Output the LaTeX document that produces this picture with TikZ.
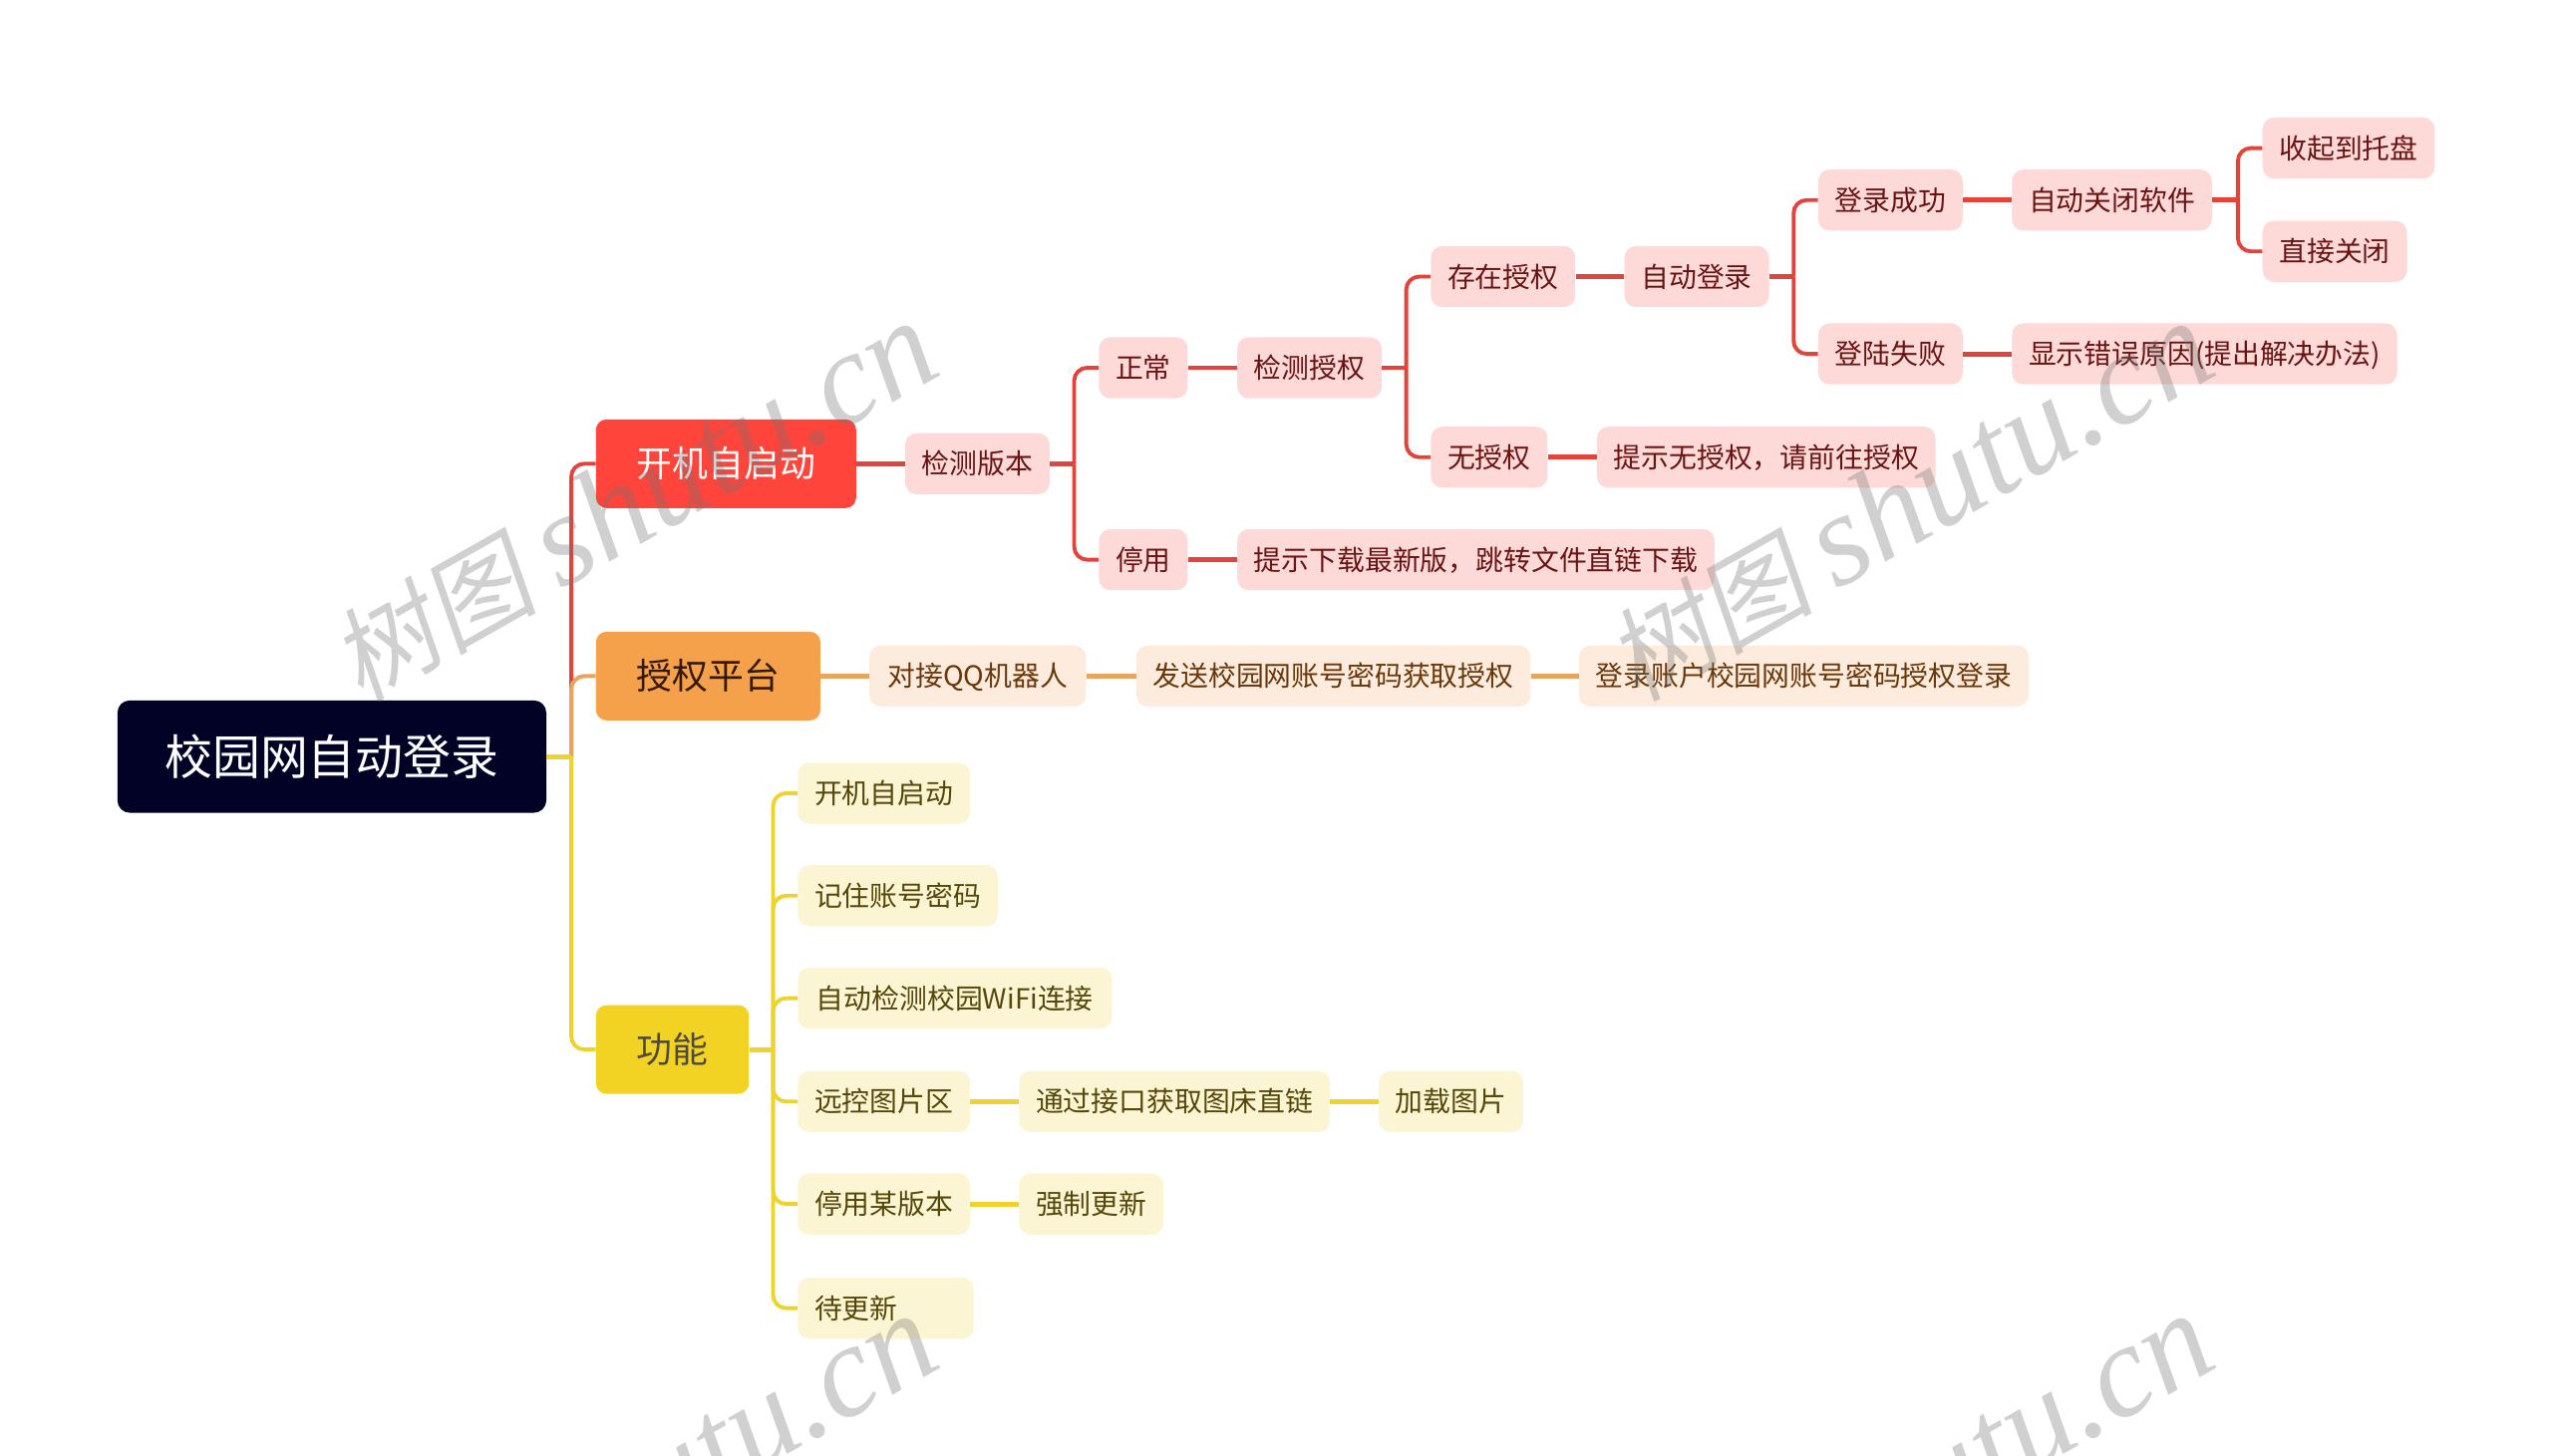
\documentclass[tikz,border=0pt]{standalone}
\usepackage{fontspec}
\setmainfont{Noto Sans CJK SC}
\newfontfamily\wmcjk[FakeSlant=0.18]{Noto Sans CJK SC}
\newfontfamily\wmlatin{Liberation Serif}
\definecolor{inkroot}{RGB}{2,2,38}
\definecolor{redbox}{RGB}{255,68,59}
\definecolor{orabox}{RGB}{245,161,76}
\definecolor{yelbox}{RGB}{242,211,35}
\definecolor{redleaf}{RGB}{253,218,216}
\definecolor{oraleaf}{RGB}{253,236,221}
\definecolor{yelleaf}{RGB}{252,245,211}
\definecolor{redtext}{RGB}{105,20,18}
\definecolor{oratext}{RGB}{105,55,10}
\definecolor{yeltext}{RGB}{85,70,10}
\definecolor{redline}{RGB}{226,68,60}
\definecolor{oraline}{RGB}{232,163,92}
\definecolor{yelline}{RGB}{238,211,44}
\tikzset{
  rootbox/.style={fill=inkroot,text=white,rounded corners=0.3cm,inner xsep=1.16cm,inner ysep=0pt,minimum height=2.76cm,font=\fontsize{33.4}{36}\selectfont,anchor=west},
  headbox/.style={fill=#1,rounded corners=0.26cm,inner xsep=1cm,inner ysep=0pt,minimum height=2.18cm,font=\fontsize{25}{28}\selectfont,anchor=west},
  leafbox/.style 2 args={fill=#1,text=#2,rounded corners=0.28cm,inner xsep=0.41cm,inner ysep=0pt,text height=0.6cm,text depth=0.08cm,minimum height=1.5cm,font=\fontsize{19.4}{22}\selectfont,anchor=west},
  redbit/.style={leafbox={redleaf}{redtext}},
  orabit/.style={leafbox={oraleaf}{oratext}},
  yelbit/.style={leafbox={yelleaf}{yeltext}},
  trunk/.style={draw=#1,line width=2.7pt,rounded corners=0.32cm},
  stub/.style={draw=#1,line width=3.4pt},
  wmark/.style={text=black!55,opacity=0.33,rotate=29.5,anchor=base west,inner sep=0pt}
}
\begin{document}
\begin{tikzpicture}[x=0.04cm,y=-0.04cm]
\useasboundingbox (0,0) rectangle (1568,894.86);
\fill [white] (0,0) rectangle (1568,894.86);
% joints of the branches
\coordinate (jroot) at (351,465);
\coordinate (jcheck) at (660,285);
\coordinate (jauth) at (864,226);
\coordinate (jlogin) at (1102,170);
\coordinate (jclose) at (1375,123);
\coordinate (jfunc) at (475,645);
% main branches
\node [rootbox] (root) at (72,465) {校园网自动登录};
\node [headbox=redbox,text=white] (boot) at (366,285) {开机自启动};
\node [headbox=orabox,text=black!80!orange] (plat) at (366,415.5) {授权平台};
\node [headbox=yelbox,text=black!80!yellow] (func) at (366,645) {功能};
% red part
\node [redbit] (check) at (556,285) {检测版本};
\node [redbit] (normal) at (675,226) {正常};
\node [redbit] (auth) at (760,226) {检测授权};
\node [redbit] (hasauth) at (879,170) {存在授权};
\node [redbit] (autolog) at (998,170) {自动登录};
\node [redbit] (logok) at (1117,123) {登录成功};
\node [redbit] (autoclose) at (1236,123) {自动关闭软件};
\node [redbit] (tray) at (1390,91) {收起到托盘};
\node [redbit] (quit) at (1390,154.5) {直接关闭};
\node [redbit] (logbad) at (1117,217.5) {登陆失败};
\node [redbit] (why) at (1236,217.5) {显示错误原因(提出解决办法)};
\node [redbit] (noauth) at (879,281) {无授权};
\node [redbit] (hint) at (981,281) {提示无授权，请前往授权};
\node [redbit] (off) at (675,344) {停用};
\node [redbit] (down) at (760,344) {提示下载最新版，跳转文件直链下载};
% orange part
\node [orabit,minimum width=5.32cm] (qq) at (534,415.5) {对接QQ机器人};
\node [orabit] (send) at (698,415.5) {发送校园网账号密码获取授权};
\node [orabit] (acc) at (970,415.5) {登录账户校园网账号密码授权登录};
% yellow part
\node [yelbit] (f1) at (490,487.5) {开机自启动};
\node [yelbit] (f2) at (490,550.5) {记住账号密码};
\node [yelbit,minimum width=7.72cm] (f3) at (490,613.5) {自动检测校园WiFi连接};
\node [yelbit] (f4) at (490,677) {远控图片区};
\node [yelbit] (f4a) at (626,677) {通过接口获取图床直链};
\node [yelbit] (f4b) at (847,677) {加载图片};
\node [yelbit] (f5) at (490,740) {停用某版本};
\node [yelbit] (f5a) at (626,740) {强制更新};
\node [yelbit,text width=3.5cm,align=left] (f6) at (490,804) {待更新};
% links
\draw [trunk=redline] (jroot) |- (boot.west);
\draw [trunk=oraline] (jroot) |- (plat.west);
\draw [trunk=yelline] (jroot) |- (func.west);
\draw [stub=yelline] (root.east) -- (jroot);
\draw [stub=redline] (boot.east) -- (check.west);
\draw [stub=redline] (check.east) -- (jcheck);
\draw [trunk=redline] (jcheck) |- (normal.west);
\draw [trunk=redline] (jcheck) |- (off.west);
\draw [stub=redline] (normal.east) -- (auth.west);
\draw [stub=redline] (auth.east) -- (jauth);
\draw [trunk=redline] (jauth) |- (hasauth.west);
\draw [trunk=redline] (jauth) |- (noauth.west);
\draw [stub=redline] (hasauth.east) -- (autolog.west);
\draw [stub=redline] (autolog.east) -- (jlogin);
\draw [trunk=redline] (jlogin) |- (logok.west);
\draw [trunk=redline] (jlogin) |- (logbad.west);
\draw [stub=redline] (logok.east) -- (autoclose.west);
\draw [stub=redline] (autoclose.east) -- (jclose);
\draw [trunk=redline] (jclose) |- (tray.west);
\draw [trunk=redline] (jclose) |- (quit.west);
\draw [stub=redline] (logbad.east) -- (why.west);
\draw [stub=redline] (noauth.east) -- (hint.west);
\draw [stub=redline] (off.east) -- (down.west);
\draw [stub=oraline] (plat.east) -- (qq.west);
\draw [stub=oraline] (qq.east) -- (send.west);
\draw [stub=oraline] (send.east) -- (acc.west);
\draw [stub=yelline] (func.east) -- (jfunc);
\draw [trunk=yelline] (jfunc) |- (f1.west);
\draw [trunk=yelline] (jfunc) |- (f2.west);
\draw [trunk=yelline] (jfunc) |- (f3.west);
\draw [trunk=yelline] (jfunc) |- (f4.west);
\draw [trunk=yelline] (jfunc) |- (f5.west);
\draw [trunk=yelline] (jfunc) |- (f6.west);
\draw [stub=yelline] (f4.east) -- (f4a.west);
\draw [stub=yelline] (f4a.east) -- (f4b.west);
\draw [stub=yelline] (f5.east) -- (f5a.west);
% watermark
\foreach \wx/\wy/\wn in {222/432/wa,1006/432/wb,222/1042/wc,1006/1042/wd}
  \node [wmark] (\wn) at (\wx,\wy) {\wmcjk\fontsize{72}{74}\selectfont 树图 \wmlatin\itshape\fontsize{92}{94}\selectfont shutu.cn};
\end{tikzpicture}
\end{document}
